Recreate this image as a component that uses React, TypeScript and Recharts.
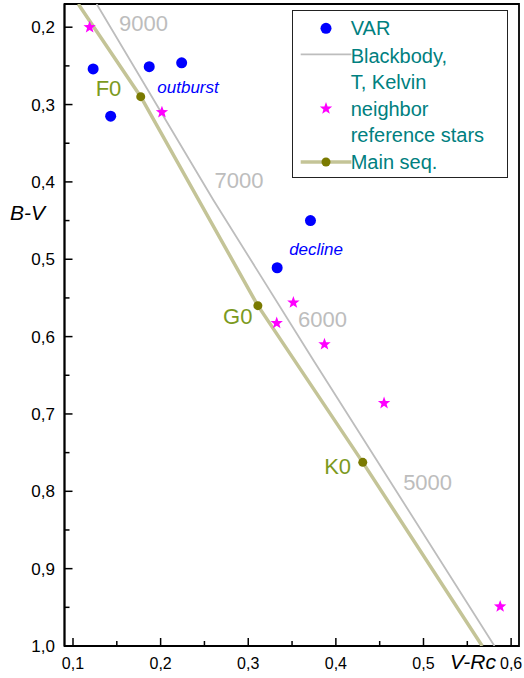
import {
  ScatterChart,
  Scatter,
  XAxis,
  YAxis,
  ReferenceArea,
  Legend,
} from "recharts";

const FONT = '"Liberation Sans", Arial, sans-serif';

// observed colours (V-Rc, B-V)
const VAR_POINTS = [
  { x: 0.123, y: 0.254 },
  { x: 0.143, y: 0.315 },
  { x: 0.187, y: 0.251 },
  { x: 0.224, y: 0.246 },
  { x: 0.371, y: 0.45 },
  { x: 0.333, y: 0.511 },
];

const REF_STARS = [
  { x: 0.119, y: 0.2 },
  { x: 0.2015, y: 0.31 },
  { x: 0.3515, y: 0.556 },
  { x: 0.3325, y: 0.5825 },
  { x: 0.387, y: 0.61 },
  { x: 0.455, y: 0.686 },
  { x: 0.5875, y: 0.949 },
];

const BLACKBODY = [
  { x: 0.127, y: 0.17 },
  { x: 0.26, y: 0.423 },
  { x: 0.374, y: 0.63 },
  { x: 0.581, y: 1.0 },
];

const MAIN_SEQ_LINE = [
  { x: 0.106, y: 0.17 },
  { x: 0.1773, y: 0.2898 },
  { x: 0.311, y: 0.56 },
  { x: 0.4307, y: 0.7626 },
  { x: 0.567, y: 1.0 },
];

const MAIN_SEQ_DOTS = [
  { x: 0.1773, y: 0.2898 },
  { x: 0.311, y: 0.56 },
  { x: 0.4307, y: 0.7626 },
];

const TEMP_LABELS = [
  { x: 0.1805, y: 0.1952, t: "9000" },
  { x: 0.2895, y: 0.3986, t: "7000" },
  { x: 0.3848, y: 0.5773, t: "6000" },
  { x: 0.5047, y: 0.789, t: "5000" },
];

const SPECTRAL_LABELS = [
  { x: 0.1405, y: 0.2788, t: "F0" },
  { x: 0.288, y: 0.574, t: "G0" },
  { x: 0.402, y: 0.768, t: "K0" },
];

const PHASE_LABELS = [
  { x: 0.2313, y: 0.2775, t: "outburst" },
  { x: 0.3774, y: 0.4873, t: "decline" },
];

const X_TICKS = [0.1, 0.15, 0.2, 0.25, 0.3, 0.35, 0.4, 0.45, 0.5, 0.55, 0.6];
const Y_TICKS = [
  0.2, 0.25, 0.3, 0.35, 0.4, 0.45, 0.5, 0.55, 0.6, 0.65, 0.7, 0.75, 0.8,
  0.85, 0.9, 0.95, 1.0,
];

const X_DOMAIN = [0.0903, 0.609];
const Y_DOMAIN = [0.17, 1.0];

const isMajor = (v: number) => Math.abs(v * 10 - Math.round(v * 10)) < 1e-6;
const fmt = (v: number) => v.toFixed(1).replace(".", ",");

function starPath(cx: number, cy: number, ro: number, ri: number) {
  let d = "";
  for (let i = 0; i < 10; i++) {
    const r = i % 2 === 0 ? ro : ri;
    const a = -Math.PI / 2 + (i * Math.PI) / 5;
    d += (i === 0 ? "M" : "L") + (cx + r * Math.cos(a)) + "," + (cy + r * Math.sin(a));
  }
  return d + "Z";
}

function XTick({ x, y, payload }: any) {
  const v = payload.value;
  const major = isMajor(v);
  return (
    <g>
      <line x1={x} x2={x} y1={y} y2={y - (major ? 8 : 5)} stroke="#000" strokeWidth={1.5} />
      {major && (
        <text x={x} y={y + 23} textAnchor="middle" fontSize={16} fontFamily={FONT} fill="#000">
          {fmt(v)}
        </text>
      )}
    </g>
  );
}

function YTick({ x, y, payload }: any) {
  const v = payload.value;
  const major = isMajor(v);
  return (
    <g>
      <line x1={x} x2={x + (major ? 8 : 5)} y1={y} y2={y} stroke="#000" strokeWidth={1.5} />
      {major && (
        <text x={x - 9.5} y={y + 6} textAnchor="end" fontSize={17} fontFamily={FONT} fill="#000">
          {fmt(v)}
        </text>
      )}
    </g>
  );
}

const textShape =
  (fill: string, size: number, italic = false) =>
  (props: any) =>
    (
      <text
        x={props.cx}
        y={props.cy}
        textAnchor="middle"
        dominantBaseline="central"
        fontSize={size}
        fontStyle={italic ? "italic" : "normal"}
        fontFamily={FONT}
        fill={fill}
      >
        {props.payload.t}
      </text>
    );

function LegendBox() {
  const tx = 58.7;
  return (
    <div
      style={{
        width: 216,
        height: 168,
        boxSizing: "border-box",
        border: "1px solid #222",
        background: "#fff",
      }}
    >
      <svg width={214} height={166} style={{ display: "block" }}>
        <g transform="translate(-1,-1)" fontFamily={FONT} fontSize={20} fill="#008080">
          <circle cx={34} cy={18.3} r={5.5} fill="#0000ff" />
          <line x1={8.7} x2={59.4} y1={44.3} y2={44.3} stroke="#bdbdbd" strokeWidth={1.8} />
          <path d={starPath(34, 98.6, 6.5, 2.7)} fill="#ff00ff" />
          <line x1={8.7} x2={59.4} y1={152} y2={152} stroke="#c4c497" strokeWidth={3.5} />
          <circle cx={34} cy={152} r={4.5} fill="#7a7a00" />
          <text x={tx} y={25.3}>VAR</text>
          <text x={tx} y={52.6}>Blackbody,</text>
          <text x={tx} y={79.3}>T, Kelvin</text>
          <text x={tx} y={106}>neighbor</text>
          <text x={tx} y={132.3}>reference stars</text>
          <text x={tx} y={158.8}>Main seq.</text>
        </g>
      </svg>
    </div>
  );
}

export default function App() {
  return (
    <div style={{ position: "absolute", left: 0, top: 0, width: 524, height: 678, background: "#fff" }}>
      <ScatterChart width={524} height={678} margin={{ top: 4, right: 5, bottom: 0, left: 0 }}>
        <XAxis
          type="number"
          dataKey="x"
          domain={X_DOMAIN}
          allowDataOverflow
          ticks={X_TICKS}
          interval={0}
          tickSize={0}
          tickMargin={0}
          tickLine={false}
          tick={<XTick />}
          height={32}
          axisLine={{ stroke: "#000", strokeWidth: 1.8 }}
          label={(p: any) => (
            <text x={450} y={669} fontSize={21} fontStyle="italic" fontFamily={FONT} fill="#000">
              V-Rc
            </text>
          )}
        />
        <YAxis
          type="number"
          dataKey="y"
          domain={Y_DOMAIN}
          allowDataOverflow
          reversed
          ticks={Y_TICKS}
          interval={0}
          tickSize={0}
          tickMargin={0}
          tickLine={false}
          tick={<YTick />}
          width={64.5}
          axisLine={{ stroke: "#000", strokeWidth: 1.8 }}
          label={(p: any) => (
            <text x={10} y={220} fontSize={21} fontStyle="italic" fontFamily={FONT} fill="#000">
              B-V
            </text>
          )}
        />
        <ReferenceArea
          x1={X_DOMAIN[0]}
          x2={X_DOMAIN[1]}
          y1={Y_DOMAIN[0]}
          y2={Y_DOMAIN[1]}
          fill="none"
          stroke="#000"
          strokeWidth={1.8}
          fillOpacity={0}
        />
        <Scatter
          name="Blackbody"
          data={BLACKBODY}
          line={{ stroke: "#bdbdbd", strokeWidth: 1.8 }}
          shape={() => <g />}
          isAnimationActive={false}
        />
        <Scatter
          name="Main seq line"
          data={MAIN_SEQ_LINE}
          line={{ stroke: "#c4c497", strokeWidth: 3.5 }}
          shape={() => <g />}
          isAnimationActive={false}
        />
        <Scatter
          name="Main seq."
          data={MAIN_SEQ_DOTS}
          shape={(p: any) => <circle cx={p.cx} cy={p.cy} r={4.5} fill="#7a7a00" />}
          isAnimationActive={false}
        />
        <Scatter
          name="VAR"
          data={VAR_POINTS}
          shape={(p: any) => <circle cx={p.cx} cy={p.cy} r={5.5} fill="#0000ff" />}
          isAnimationActive={false}
        />
        <Scatter
          name="neighbor reference stars"
          data={REF_STARS}
          shape={(p: any) => <path d={starPath(p.cx, p.cy, 6.5, 2.7)} fill="#ff00ff" />}
          isAnimationActive={false}
        />
        <Scatter data={TEMP_LABELS} shape={textShape("#bdbdbd", 22)} isAnimationActive={false} />
        <Scatter data={SPECTRAL_LABELS} shape={textShape("#7c9a1e", 22)} isAnimationActive={false} />
        <Scatter data={PHASE_LABELS} shape={textShape("#0000ff", 17, true)} isAnimationActive={false} />
        <Legend
          layout="vertical"
          align="center"
          verticalAlign="middle"
          content={() => <LegendBox />}
          wrapperStyle={{ position: "absolute", left: 292, top: 10, width: 216, height: 168 }}
        />
      </ScatterChart>
    </div>
  );
}
